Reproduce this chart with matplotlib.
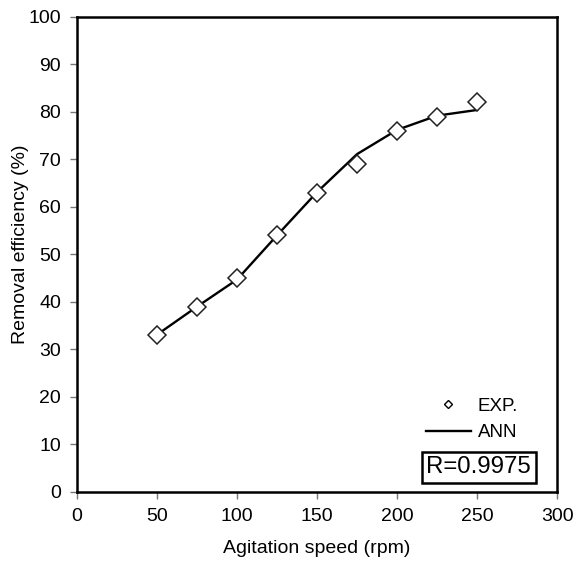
import numpy as np
import matplotlib.pyplot as plt
from matplotlib.lines import Line2D

plt.rcParams['font.family'] = ['Liberation Sans', 'DejaVu Sans']

speed = [50, 75, 100, 125, 150, 175, 200, 225, 250]
exp_eff = [33, 39, 45, 54, 63, 69, 76, 79, 82]
ann_eff = [33.1, 39.0, 44.7, 54.0, 63.1, 71.1, 76.2, 79.2, 80.4]

fig = plt.figure(figsize=(5.77, 5.61), dpi=100)
ax = fig.add_axes([0.1334, 0.123, 0.832, 0.847])

ax.plot(speed, ann_eff, color='black', lw=1.7, zorder=2)
ax.plot(speed, exp_eff, ls='none', marker='D', ms=9, mfc='white', mec='#222222',
        mew=1.1, zorder=3)

ax.set_xlim(0, 300)
ax.set_ylim(0, 100)
ax.set_xticks(np.arange(0, 301, 50))
ax.set_yticks(np.arange(0, 101, 10))
ax.tick_params(direction='out', length=5, width=1, color='#777777',
               labelsize=14, pad=6.5)
for s in ax.spines.values():
    s.set_linewidth(1.8)
    s.set_color('black')

ax.set_xlabel('Agitation speed (rpm)', fontsize=14, labelpad=11)
ax.set_ylabel('Removal efficiency (%)', fontsize=14)
ax.yaxis.set_label_coords(-0.1, 0.522)

handles = [
    Line2D([], [], ls='none', marker='D', ms=4, mfc='white', mec='black', mew=1),
    Line2D([], [], color='black', lw=1.7),
]
ax.legend(handles, ['EXP.', 'ANN'], loc='center left', bbox_to_anchor=(0.727, 0.153),
          frameon=False, fontsize=13.5, borderpad=0, borderaxespad=0,
          handlelength=2.4, handletextpad=0.35, labelspacing=0.5)

ax.text(0.837, 0.0516, 'R=0.9975', transform=ax.transAxes, ha='center', va='center',
        fontsize=17.3,
        bbox=dict(boxstyle='square,pad=0.2', fc='white', ec='black', lw=1.8))

fig.savefig('out.png', dpi=100)
